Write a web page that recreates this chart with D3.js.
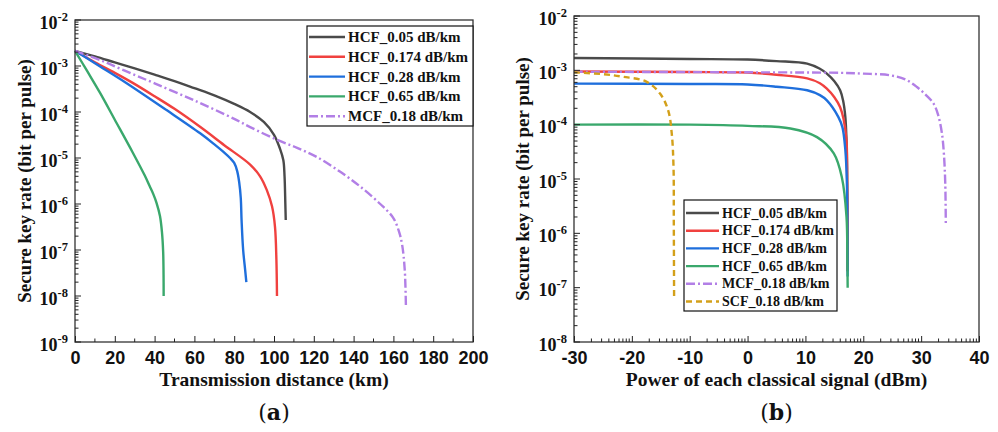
<!DOCTYPE html>
<html>
<head>
<meta charset="utf-8">
<script src="https://cdn.jsdelivr.net/npm/d3@7"></script>
<style>
  body { margin: 0; background: #fff; }
  svg { font-family: "Liberation Serif", "Times New Roman", serif; font-weight: bold; }
  .frame { fill: none; stroke: #333; stroke-width: 1.3; }
  .tick line { stroke: #222; }
  .curve { fill: none; stroke-width: 2.4; }
</style>
</head>
<body>
<div id="chart"></div>
<script>
// ---- data (a): key rate vs distance (km) ----
const distBlack  = [0, 10, 20, 30, 40, 50, 60, 70, 80, 88, 95, 100, 103, 104.7, 105.3, 105.7, 105.9];
const rateBlack  = [2.14e-3, 1.62e-3, 1.2e-3, 8.9e-4, 6.5e-4, 4.7e-4, 3.3e-4, 2.3e-4, 1.5e-4, 1.0e-4, 6.0e-5, 3.2e-5, 1.6e-5, 8.9e-6, 4.0e-6, 1.0e-6, 4.5e-7];
const distRed    = [0, 10, 20, 29, 40, 50, 63, 75, 88, 93, 96.4, 99, 100.5, 101.2, 101.5];
const rateRed    = [2.14e-3, 1.2e-3, 7.1e-4, 4.3e-4, 2.2e-4, 1.17e-4, 4.7e-5, 1.9e-5, 7.2e-6, 4.0e-6, 2.0e-6, 8.9e-7, 3.2e-7, 6.3e-8, 1.0e-8];
const distBlue   = [0, 12.6, 25, 46, 62.9, 69.9, 74.9, 77.9, 80, 81.5, 82.5, 83.3, 83.7, 84.5, 85.5, 86.1];
const rateBlue   = [2.14e-3, 9.8e-4, 4.5e-4, 1.1e-4, 3.44e-5, 2.0e-5, 1.32e-5, 1.0e-5, 7.8e-6, 5.2e-6, 3.0e-6, 1.35e-6, 4.5e-7, 1.0e-7, 3.7e-8, 2.0e-8];
const distGreen  = [0, 6, 12.6, 20, 29, 35, 37.5, 39.4, 41, 42.7, 43.7, 44.3, 44.5, 44.55];
const rateGreen  = [2.14e-3, 7.9e-4, 2.6e-4, 6.8e-5, 1.32e-5, 4.2e-6, 2.45e-6, 1.62e-6, 1.05e-6, 5.5e-7, 2.45e-7, 9.1e-8, 2.9e-8, 1.0e-8];
const distPurple = [0, 12.6, 25, 40, 60, 80, 88, 101.4, 111.6, 121.5, 133.3, 143.3, 153.4, 159.9, 162.9, 164.4, 165.7, 166.3];
const ratePurple = [2.14e-3, 1.35e-3, 7.9e-4, 4.2e-4, 1.78e-4, 7.1e-5, 4.7e-5, 2.5e-5, 1.66e-5, 1.05e-5, 5.0e-6, 2.4e-6, 1.0e-6, 5.0e-7, 2.45e-7, 1.29e-7, 3.7e-8, 5.5e-9];

// ---- data (b): key rate vs classical power (dBm) ----
const powBlack  = [-30, -10, 0, 5, 10.3, 12.5, 13.7, 15, 16, 16.5, 16.9, 17.1, 17.2, 17.25, 17.3];
const kBlack    = [1.69e-3, 1.62e-3, 1.58e-3, 1.48e-3, 1.33e-3, 1.07e-3, 8.7e-4, 6.3e-4, 4.3e-4, 2.8e-4, 1.38e-4, 5.0e-5, 1.66e-5, 3.2e-6, 2.0e-7];
const powRed    = [-30, -10, 0, 5, 10.3, 12.5, 13.7, 15, 16, 16.6, 17.1, 17.2, 17.25, 17.3];
const kRed      = [9.5e-4, 9.3e-4, 9.1e-4, 8.3e-4, 7.1e-4, 5.8e-4, 4.6e-4, 3.2e-4, 2.1e-4, 1.26e-4, 5.1e-5, 1.6e-5, 3.2e-6, 2.0e-7];
const powBlue   = [-30, -10, 0, 5, 10.3, 12.5, 13.7, 15.7, 16.4, 16.9, 17.15, 17.25, 17.3];
const kBlue     = [5.7e-4, 5.6e-4, 5.5e-4, 5.0e-4, 4.3e-4, 3.5e-4, 2.8e-4, 1.38e-4, 8.9e-5, 3.4e-5, 1.0e-5, 1.6e-6, 1.6e-7];
const powGreen  = [-30, -10, 0, 7.4, 12, 14.9, 16.3, 17.1, 17.25, 17.3];
const kGreen    = [1.0e-4, 1.0e-4, 9.5e-5, 8.5e-5, 5.9e-5, 2.95e-5, 1.07e-5, 2.0e-6, 3.2e-7, 1.0e-7];
const powPurple = [-30, 0, 16, 20, 24.66, 27.25, 29.28, 30.88, 32.15, 32.96, 33.6, 33.95, 34.17, 34.26];
const kPurple   = [9.4e-4, 9.2e-4, 9.0e-4, 8.7e-4, 8.1e-4, 6.84e-4, 4.93e-4, 3.47e-4, 2.44e-4, 1.48e-4, 6.84e-5, 2.73e-5, 8.2e-6, 1.53e-6];
const powGold   = [-30, -25, -21.5, -17.5, -15.1, -13.7, -13.1, -12.8, -12.75, -12.7];
const kGold     = [9.2e-4, 8.5e-4, 7.6e-4, 6.2e-4, 3.7e-4, 1.8e-4, 6.8e-5, 1.66e-5, 1.6e-6, 7.0e-8];

const namesA = ['HCF_0.05 dB/km', 'HCF_0.174 dB/km', 'HCF_0.28 dB/km', 'HCF_0.65 dB/km', 'MCF_0.18 dB/km'];
const namesB = [...namesA, 'SCF_0.18 dB/km'];
const ticksA = [0, 20, 40, 60, 80, 100, 120, 140, 160, 180, 200];
const ticksB = [-30, -20, -10, 0, 10, 20, 30, 40];

const colors = ['#4a4a4a', '#f0413f', '#1f6fdc', '#3aa86c', '#b27fe6', '#d3a01a'];
const dashes = [null, null, null, null, '9,3,2,3', '6,4'];

const zip = (xs, ys) => xs.map((x, i) => [x, ys[i]]);
const seriesA = [zip(distBlack, rateBlack), zip(distRed, rateRed), zip(distBlue, rateBlue),
                 zip(distGreen, rateGreen), zip(distPurple, ratePurple)];
const seriesB = [zip(powBlack, kBlack), zip(powRed, kRed), zip(powBlue, kBlue),
                 zip(powGreen, kGreen), zip(powPurple, kPurple), zip(powGold, kGold)];

const svg = d3.select('#chart').append('svg').attr('width', 998).attr('height', 432);
svg.append('rect').attr('width', 998).attr('height', 432).attr('fill', '#fff');

function panel({left, right, top, bottom, xDomain, yDomain, xTicks, xMinor, series, names, legend, xLabel, yLabelX, tag}) {
    const x = d3.scaleLinear().domain(xDomain).range([left, right]);
    const y = d3.scaleLog().domain(yDomain).range([bottom, top]);
    const g = svg.append('g');

    // curves (centripetal catmull-rom keeps the steep ends smooth)
    const line = d3.line().x(d => x(d[0])).y(d => y(d[1])).curve(d3.curveCatmullRom.alpha(0.5));
    series.forEach((s, i) => {
        g.append('path').datum(s).attr('class', 'curve')
            .attr('stroke', colors[i])
            .attr('stroke-dasharray', dashes[i])
            .attr('d', line);
    });

    g.append('rect').attr('class', 'frame')
        .attr('x', left).attr('y', top).attr('width', right - left).attr('height', bottom - top);

    // x axis, ticks inward
    const xa = g.append('g').attr('transform', `translate(0,${bottom})`)
        .call(d3.axisBottom(x).tickValues(xTicks).tickFormat(d => String(d))
            .tickSizeInner(-6).tickSizeOuter(0).tickPadding(9));
    xa.select('.domain').remove();
    xa.selectAll('text').attr('font-size', 18).attr('font-family', null).attr('fill', '#111');
    g.append('g').selectAll('line').data(xMinor).join('line')
        .attr('x1', d => x(d)).attr('x2', d => x(d))
        .attr('y1', bottom).attr('y2', bottom - 3.5).attr('stroke', '#222');

    // y axis, log
    const [lo, hi] = yDomain.map(v => Math.round(Math.log10(v)));
    const majors = d3.range(lo, hi + 1).map(e => Math.pow(10, e));
    const minors = [];
    d3.range(lo, hi).forEach(e => { for (let k = 2; k <= 9; k++) minors.push(k * Math.pow(10, e)); });
    g.append('g').selectAll('line').data(majors).join('line')
        .attr('x1', left).attr('x2', left + 6).attr('y1', d => y(d)).attr('y2', d => y(d)).attr('stroke', '#222');
    g.append('g').selectAll('line').data(minors).join('line')
        .attr('x1', left).attr('x2', left + 3.5).attr('y1', d => y(d)).attr('y2', d => y(d)).attr('stroke', '#222');
    const yl = g.append('g').selectAll('text').data(majors).join('text')
        .attr('x', left - 7).attr('y', d => y(d) + 8.5).attr('text-anchor', 'end').attr('fill', '#111');
    yl.append('tspan').attr('font-size', 18).text('10');
    yl.append('tspan').attr('font-size', 12.5).attr('dy', -8).text(d => Math.round(Math.log10(d)));

    // labels
    g.append('text').attr('transform', `translate(${yLabelX},${(top + bottom) / 2}) rotate(-90)`)
        .attr('text-anchor', 'middle').attr('font-size', 19).attr('fill', '#111')
        .text('Secure key rate (bit per pulse)');
    g.append('text').attr('x', (left + right) / 2).attr('y', 386)
        .attr('text-anchor', 'middle').attr('font-size', 19.5).attr('fill', '#111').text(xLabel);
    const t = g.append('text').attr('x', (left + right) / 2).attr('y', 420)
        .attr('text-anchor', 'middle').attr('font-size', 22).attr('fill', '#111')
        .attr('font-family', '"DejaVu Serif", serif');
    t.append('tspan').attr('font-weight', 'normal').text('(');
    t.append('tspan').text(tag);
    t.append('tspan').attr('font-weight', 'normal').text(')');

    // legend
    const lg = g.append('g').attr('transform', `translate(${legend.x},${legend.y})`);
    lg.append('rect').attr('width', legend.w).attr('height', legend.h)
        .attr('fill', '#fff').attr('stroke', '#111').attr('stroke-width', 1.2);
    names.forEach((name, i) => {
        const cy = legend.first + i * legend.step;
        lg.append('line').attr('x1', 2).attr('x2', legend.lineW).attr('y1', cy).attr('y2', cy)
            .attr('stroke', colors[i]).attr('stroke-width', 2.4).attr('stroke-dasharray', dashes[i]);
        lg.append('text').attr('x', legend.lineW + 3).attr('y', cy + legend.fs * 0.33)
            .attr('font-size', legend.fs).attr('fill', '#111').text(name);
    });
}

panel({
    left: 75, right: 473, top: 20, bottom: 342,
    xDomain: [0, 200], yDomain: [1e-9, 1e-2],
    xTicks: ticksA, xMinor: d3.range(10, 200, 20),
    series: seriesA, names: namesA,
    legend: {x: 307, y: 26, w: 166, h: 100, first: 11, step: 19.8, lineW: 38, fs: 15},
    xLabel: 'Transmission distance (km)', yLabelX: 31, tag: 'a'
});

const logMinor = [];
ticksB.slice(0, -1).forEach(a => { for (let k = 2; k <= 9; k++) logMinor.push(a + 10 * Math.log10(k)); });

panel({
    left: 574, right: 979, top: 16, bottom: 342,
    xDomain: [-30, 40], yDomain: [1e-8, 1e-2],
    xTicks: ticksB, xMinor: logMinor,
    series: seriesB, names: namesB,
    legend: {x: 684, y: 200, w: 153, h: 111, first: 13, step: 17.7, lineW: 35, fs: 14},
    xLabel: 'Power of each classical signal (dBm)', yLabelX: 529, tag: 'b'
});
</script>
</body>
</html>
